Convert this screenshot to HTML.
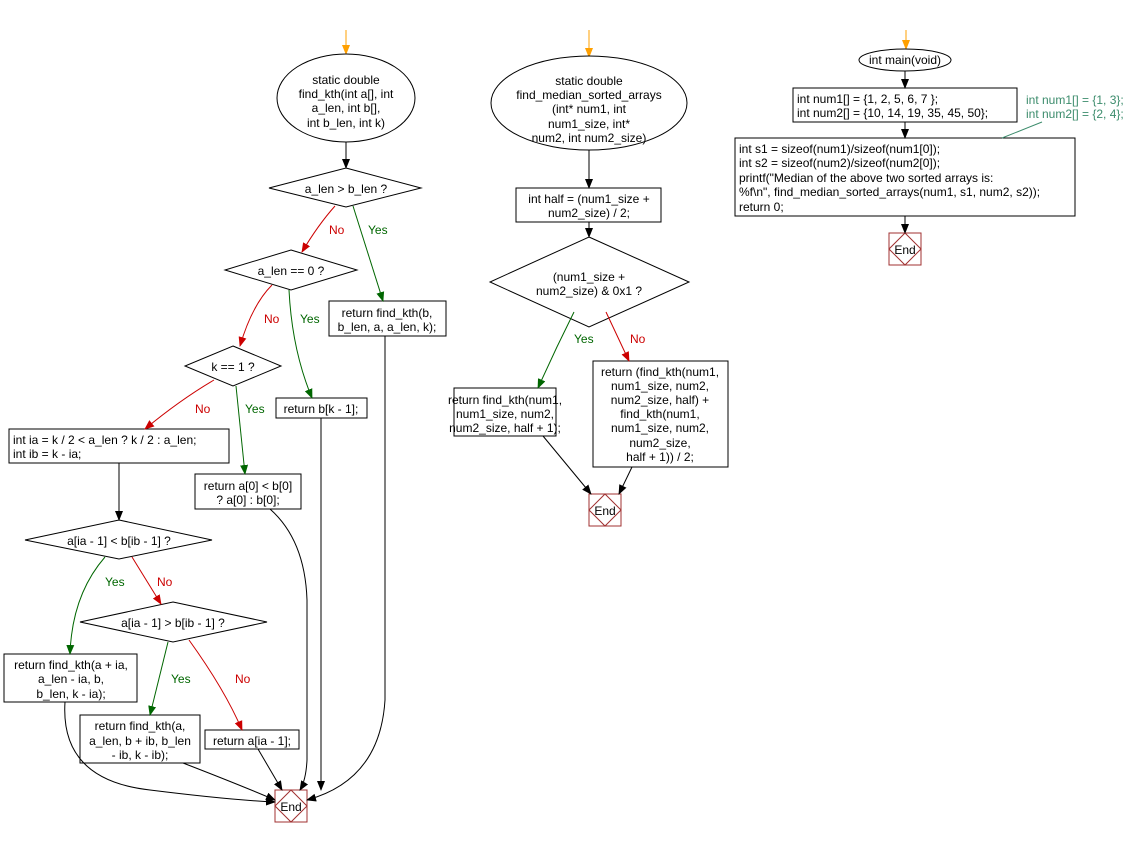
<!DOCTYPE html>
<html><head><meta charset="utf-8"><style>
html,body{margin:0;padding:0;background:#fff;}
svg text{font-family:"Liberation Sans",Arial,sans-serif;font-size:12px;fill:#000;}
</style></head><body>
<svg width="1147" height="838" viewBox="0 0 1147 838" xmlns="http://www.w3.org/2000/svg">
<defs>
<marker id="k" markerWidth="10" markerHeight="10" refX="9" refY="5" orient="auto" markerUnits="userSpaceOnUse"><path d="M0,1 L10,5 L0,9 z" fill="#000"/></marker>
<marker id="r" markerWidth="10" markerHeight="10" refX="9" refY="5" orient="auto" markerUnits="userSpaceOnUse"><path d="M0,1 L10,5 L0,9 z" fill="#cc0000"/></marker>
<marker id="g" markerWidth="10" markerHeight="10" refX="9" refY="5" orient="auto" markerUnits="userSpaceOnUse"><path d="M0,1 L10,5 L0,9 z" fill="#006600"/></marker>
<marker id="o" markerWidth="10" markerHeight="10" refX="9" refY="5" orient="auto" markerUnits="userSpaceOnUse"><path d="M0,1 L10,5 L0,9 z" fill="#ffa000"/></marker>
</defs>
<g fill="none" stroke-width="1">
<!-- orange starts -->
<line x1="346" y1="30" x2="346" y2="54" stroke="#ffa000" marker-end="url(#o)"/>
<line x1="589" y1="30" x2="589" y2="57" stroke="#ffa000" marker-end="url(#o)"/>
<line x1="906" y1="30" x2="906" y2="49" stroke="#ffa000" marker-end="url(#o)"/>
</g>
<g fill="#fff" stroke="#000">
<!-- left -->
<ellipse cx="346" cy="98" rx="69" ry="44"/>
<polygon points="346,168 421,188 346,207 269,188"/>
<polygon points="291,250 357,270 291,290 225,270"/>
<rect x="329" y="301" width="117" height="35"/>
<polygon points="233,346 281,366 233,386 185,366"/>
<rect x="276" y="398" width="91" height="20"/>
<rect x="9" y="429" width="220" height="34"/>
<rect x="195" y="474" width="106" height="35"/>
<polygon points="119,520 212,540 119,559 25,540"/>
<polygon points="173,602 267,622 173,642 80,622"/>
<rect x="4" y="654" width="133" height="48"/>
<rect x="80" y="715" width="120" height="48"/>
<rect x="205" y="730" width="94" height="19"/>
<!-- middle -->
<ellipse cx="589" cy="103" rx="98" ry="47"/>
<rect x="516" y="188" width="145" height="34"/>
<polygon points="589,237 689,282 589,327 490,282"/>
<rect x="454" y="388" width="102" height="48"/>
<rect x="593" y="361" width="135" height="106"/>
<!-- right -->
<ellipse cx="905" cy="60" rx="46" ry="11"/>
<rect x="793" y="88" width="224" height="34"/>
<rect x="735" y="138" width="340" height="78"/>
</g>
<!-- End nodes -->
<g fill="#fff" stroke="#a03030">
<rect x="275" y="790" width="32" height="32"/><polygon points="291,790 307,806 291,822 275,806"/>
<rect x="589" y="494" width="32" height="32"/><polygon points="605,494 621,510 605,526 589,510"/>
<rect x="889" y="233" width="32" height="32"/><polygon points="905,233 921,249 905,265 889,249"/>
</g>
<g fill="none" stroke="#000">
<line x1="346" y1="142" x2="346" y2="168" marker-end="url(#k)"/>
<line x1="119" y1="463" x2="119" y2="520" marker-end="url(#k)"/>
<path d="M321,418 L321,790" marker-end="url(#k)"/>
<path d="M385,336 L385,700 Q380,780 307,800" marker-end="url(#k)"/>
<path d="M270,509 Q305,540 307,600 L307,760 Q306,780 300,790" marker-end="url(#k)"/>
<path d="M65,702 Q60,780 150,790 Q230,800 275,802" marker-end="url(#k)"/>
<path d="M183,763 Q240,785 275,800" marker-end="url(#k)"/>
<path d="M258,749 L282,790" marker-end="url(#k)"/>
<line x1="589" y1="150" x2="589" y2="188" marker-end="url(#k)"/>
<line x1="589" y1="222" x2="589" y2="237" marker-end="url(#k)"/>
<path d="M543,436 L591,494" marker-end="url(#k)"/>
<path d="M632,467 L619,494" marker-end="url(#k)"/>
<line x1="905" y1="71" x2="905" y2="88" marker-end="url(#k)"/>
<line x1="905" y1="122" x2="905" y2="138" marker-end="url(#k)"/>
<line x1="905" y1="216" x2="905" y2="233" marker-end="url(#k)"/>
<line x1="1042" y1="122" x2="1002" y2="138" stroke="#3c8c6c"/>
</g>
<g fill="none" stroke="#cc0000">
<path d="M335,206 Q318,225 302,252" marker-end="url(#r)"/>
<path d="M272,285 Q252,305 240,346" marker-end="url(#r)"/>
<path d="M214,380 Q180,400 145,429" marker-end="url(#r)"/>
<path d="M132,557 L161,604" marker-end="url(#r)"/>
<path d="M189,640 Q225,690 242,730" marker-end="url(#r)"/>
<path d="M606,312 L629,361" marker-end="url(#r)"/>
</g>
<g fill="none" stroke="#006600">
<path d="M353,206 Q370,260 383,301" marker-end="url(#g)"/>
<path d="M289,290 Q292,350 312,398" marker-end="url(#g)"/>
<path d="M236,386 L245,474" marker-end="url(#g)"/>
<path d="M105,557 Q72,595 70,654" marker-end="url(#g)"/>
<path d="M168,642 L150,715" marker-end="url(#g)"/>
<path d="M574,312 Q555,350 538,388" marker-end="url(#g)"/>
</g>
<g text-anchor="middle">
<text x="346" y="84">static double</text>
<text x="346" y="98">find_kth(int a[], int</text>
<text x="346" y="112">a_len, int b[],</text>
<text x="346" y="127">int b_len, int k)</text>
<text x="346" y="193">a_len &gt; b_len ?</text>
<text x="291" y="275">a_len == 0 ?</text>
<text x="387" y="317">return find_kth(b,</text>
<text x="387" y="331">b_len, a, a_len, k);</text>
<text x="233" y="371">k == 1 ?</text>
<text x="321" y="413">return b[k - 1];</text>
<text x="248" y="490">return a[0] &lt; b[0]</text>
<text x="248" y="504">? a[0] : b[0];</text>
<text x="119" y="545">a[ia - 1] &lt; b[ib - 1] ?</text>
<text x="173" y="627">a[ia - 1] &gt; b[ib - 1] ?</text>
<text x="71" y="669">return find_kth(a + ia,</text>
<text x="71" y="683">a_len - ia, b,</text>
<text x="71" y="698">b_len, k - ia);</text>
<text x="140" y="730">return find_kth(a,</text>
<text x="140" y="745">a_len, b + ib, b_len</text>
<text x="140" y="759">- ib, k - ib);</text>
<text x="252" y="745">return a[ia - 1];</text>
<text x="291" y="811">End</text>
<text x="589" y="85">static double</text>
<text x="589" y="99">find_median_sorted_arrays</text>
<text x="589" y="113">(int* num1, int</text>
<text x="589" y="128">num1_size, int*</text>
<text x="589" y="142">num2, int num2_size)</text>
<text x="589" y="203">int half = (num1_size +</text>
<text x="589" y="217">num2_size) / 2;</text>
<text x="589" y="281">(num1_size +</text>
<text x="589" y="295">num2_size) &amp; 0x1 ?</text>
<text x="505" y="404">return find_kth(num1,</text>
<text x="505" y="418">num1_size, num2,</text>
<text x="505" y="432">num2_size, half + 1);</text>
<text x="660" y="376">return (find_kth(num1,</text>
<text x="660" y="390">num1_size, num2,</text>
<text x="660" y="404">num2_size, half) +</text>
<text x="660" y="418">find_kth(num1,</text>
<text x="660" y="432">num1_size, num2,</text>
<text x="660" y="447">num2_size,</text>
<text x="660" y="461">half + 1)) / 2;</text>
<text x="605" y="515">End</text>
<text x="905" y="64">int main(void)</text>
<text x="905" y="254">End</text>
</g>
<g>
<text x="797" y="103">int num1[] = {1, 2, 5, 6, 7 };</text>
<text x="797" y="117">int num2[] = {10, 14, 19, 35, 45, 50};</text>
<text x="739" y="153">int s1 = sizeof(num1)/sizeof(num1[0]);</text>
<text x="739" y="167">int s2 = sizeof(num2)/sizeof(num2[0]);</text>
<text x="739" y="182">printf("Median of the above two sorted arrays is:</text>
<text x="739" y="196">%f\n", find_median_sorted_arrays(num1, s1, num2, s2));</text>
<text x="739" y="211">return 0;</text>
<text x="13" y="444">int ia = k / 2 &lt; a_len ? k / 2 : a_len;</text>
<text x="13" y="458">int ib = k - ia;</text>
<text x="1026" y="104" style="fill:#3c8c6c">int num1[] = {1, 3};</text>
<text x="1026" y="118" style="fill:#3c8c6c">int num2[] = {2, 4};</text>
</g>
<g style="font-size:12px">
<text x="329" y="234" style="fill:#cc0000">No</text>
<text x="368" y="234" style="fill:#006600">Yes</text>
<text x="264" y="323" style="fill:#cc0000">No</text>
<text x="300" y="323" style="fill:#006600">Yes</text>
<text x="195" y="413" style="fill:#cc0000">No</text>
<text x="245" y="413" style="fill:#006600">Yes</text>
<text x="105" y="586" style="fill:#006600">Yes</text>
<text x="157" y="586" style="fill:#cc0000">No</text>
<text x="171" y="683" style="fill:#006600">Yes</text>
<text x="235" y="683" style="fill:#cc0000">No</text>
<text x="574" y="343" style="fill:#006600">Yes</text>
<text x="630" y="343" style="fill:#cc0000">No</text>
</g>
</svg>
</body></html>
